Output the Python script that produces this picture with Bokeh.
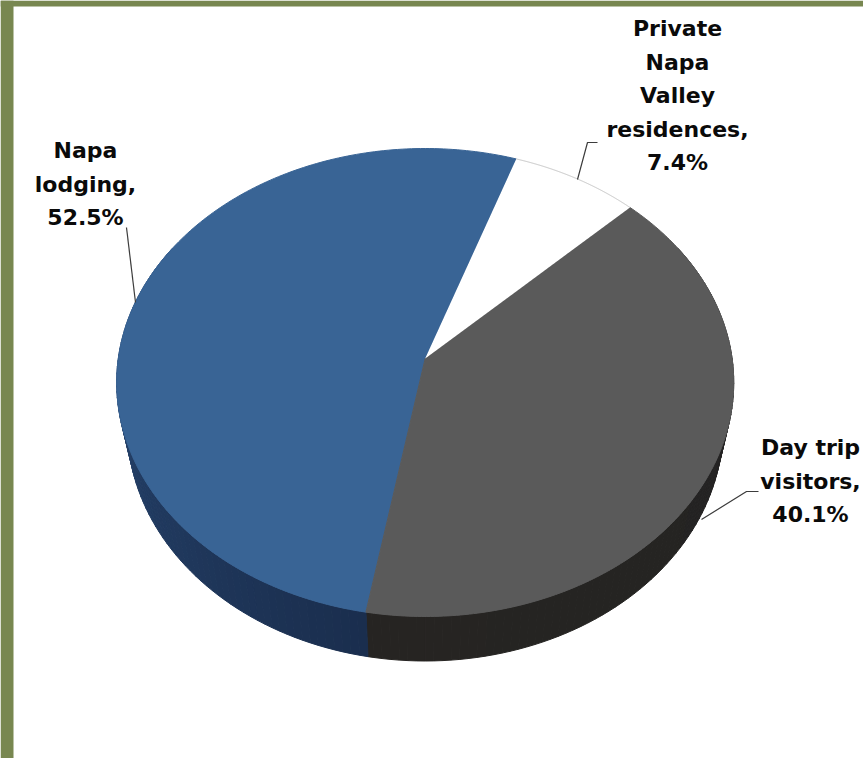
import numpy as np
from bokeh.plotting import figure
from bokeh.models import Range1d
from bokeh.core.properties import value
from bokeh.embed import file_html
from bokeh.resources import INLINE

# ---- data ----
names = ["Private Napa Valley residences,", "Day trip visitors,", "Napa lodging,"]
shares = [7.4, 40.1, 52.5]
label_lines = [["Private", "Napa", "Valley", "residences,"], ["Day trip", "visitors,"], ["Napa", "lodging,"]]
top_colors = ["#ffffff", "#5a5a5a", "#396495"]
wall_from = ["#ffffff", "#232323", "#1a2e4e"]
wall_to = ["#ffffff", "#262422", "#2a4a76"]
label_x = [677, 810, 85]
label_first_y = [28, 447, 150]
leaders = [([597, 587, 577], [142, 142, 179]), ([758, 746, 701], [491, 491, 519]), ([126, 135], [227, 302])]

# ---- projection of the tilted disc, in page pixels ----
START = 19.0
APEX_X, APEX_Y, R, BACK, C = 424.7, 358.0, 306.9, 194.8, 0.1026
DEPTH, WALL_SCALE = 44.5, 0.965


def top_xy(theta):
    t = np.radians(theta)
    u, v = np.sin(t), np.cos(t)
    d = 1 + C * v
    return APEX_X + R * u / d, (APEX_Y - BACK * v) / d


def bottom_xy(theta):
    x, y = top_xy(theta)
    return APEX_X + (x - APEX_X) * WALL_SCALE, y + DEPTH


def mix(a, b, f):
    ca = [int(a[i:i + 2], 16) for i in (1, 3, 5)]
    cb = [int(b[i:i + 2], 16) for i in (1, 3, 5)]
    return "#%02x%02x%02x" % tuple(int(round(p + (q - p) * f)) for p, q in zip(ca, cb))


cum = START + np.concatenate([[0], np.cumsum(shares)]) * 3.6

W, H = 863, 758
p = figure(width=W, height=H, x_range=Range1d(0, W), y_range=Range1d(H, 0),
           output_backend="svg", toolbar_location=None, min_border=0,
           background_fill_color="#ffffff", border_fill_color="#ffffff", outline_line_color=None)
p.axis.visible = False
p.grid.visible = False

# olive frame on the left and top
p.quad(left=[0, 0], right=[13, W], top=[0, 0], bottom=[H, 6], fill_color="#788750", line_color=None)

# side wall, visible on the front half only
for i in range(3):
    a0, a1 = max(cum[i], 60.0), min(cum[i + 1], 300.0)
    if a1 <= a0 or shares[i] < 10:
        continue
    steps = np.arange(a0, a1, 1.5)
    xs, ys, cols = [], [], []
    for s in steps:
        e = min(s + 1.5, a1)
        tx0, ty0 = top_xy(s)
        tx1, ty1 = top_xy(e)
        bx0, by0 = bottom_xy(s)
        bx1, by1 = bottom_xy(e)
        xs.append([tx0, tx1, bx1, bx0])
        ys.append([ty0, ty1, by1, by0])
        cols.append(mix(wall_from[i], wall_to[i], (s - a0) / max(a1 - a0, 1)))
    p.patches(xs, ys, fill_color=cols, line_color=cols, line_width=1)

# top face: blue first, then grey over it with its own outline closes the seam
for i in (2, 1, 0):
    th = np.linspace(cum[i], cum[i + 1], 200)
    x, y = top_xy(th)
    white = top_colors[i] == "#ffffff"
    p.patch(np.r_[APEX_X, x], np.r_[APEX_Y, y], fill_color=top_colors[i],
            line_color=None if white else top_colors[i], line_width=1)
    if white:
        p.line(x, y, line_color="#c4c4c4", line_width=1)

# leader lines
for lx, ly in leaders:
    p.line(lx, ly, line_color="#3c3c3c", line_width=1.2)

# labels
STEP = 33.6
for i, lines in enumerate(label_lines):
    full = lines + [f"{shares[i]:.1f}%"]
    ys = [label_first_y[i] + k * STEP for k in range(len(full))]
    p.text([label_x[i]] * len(full), ys, text=full, text_align="center", text_baseline="middle",
           text_font=value("DejaVu Sans"), text_font_style="bold", text_font_size="22px", text_color="#0a0a0a")

open("out.html", "w").write(file_html(p, INLINE))
